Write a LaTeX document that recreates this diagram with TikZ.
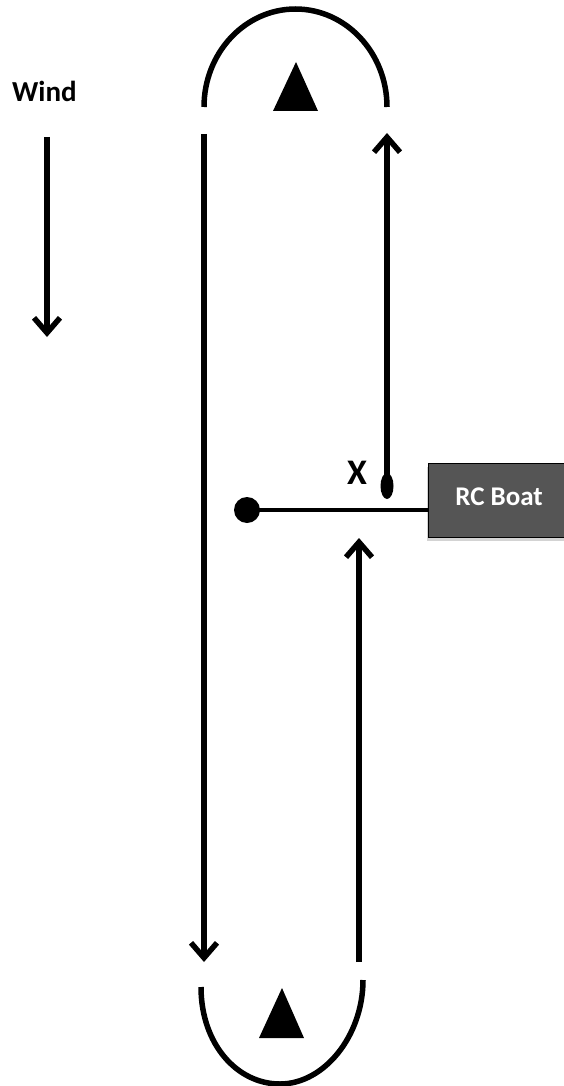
\documentclass[tikz,border=0pt]{standalone}
\usepackage{fontspec}
\setmainfont{Carlito}
\usetikzlibrary{arrows.meta,shadows,shapes.geometric}
\definecolor{boatgray}{RGB}{85,85,85}
\begin{document}
\begin{tikzpicture}[x=1pt,y=-1pt,
  course/.style={line width=5.5pt},
  runarrow/.style={line width=6pt,-{Straight Barb[length=15pt,width=26pt,line width=5.5pt]}},
  buoy/.style={fill=black},
]
\useasboundingbox (0,0) rectangle (563,1086);
% wind
\begin{scope}
\clip (0,60) rectangle (74,120);
\node[font=\bfseries\fontsize{29}{33}\selectfont,inner sep=0pt,anchor=west] (wind) at (12,91) {Wind};
\end{scope}
\coordinate (w1) at (47,137);
\coordinate (w2) at (47,337);
\draw[runarrow] (w1) -- (w2);
% top mark
\draw[course] (204,107) arc[start angle=180,end angle=360,x radius=91.5,y radius=98];
\fill[buoy] (296,62) -- (318,111) -- (273,111) -- cycle;
% bottom mark
\draw[course] (201,987) .. controls (201,1044) and (237,1084) .. (280,1084)
  .. controls (324,1084) and (363,1036) .. (363,980);
\fill[buoy] (282,988) -- (304,1038) -- (259,1038) -- cycle;
% legs
\coordinate (l1) at (204,134);
\coordinate (l2) at (204,962);
\draw[runarrow] (l1) -- (l2);
\coordinate (r1) at (359,962);
\coordinate (r2) at (359,538);
\draw[runarrow] (r1) -- (r2);
% start line
\node[draw=black,line width=1pt,fill=boatgray,minimum width=150pt,minimum height=74pt,anchor=north west,
  drop shadow={shadow xshift=-2pt,shadow yshift=-3pt,opacity=0.35}] (boat) at (428,463) {};
\node[font=\bfseries\fontsize{27}{30}\selectfont,text=white,inner sep=0pt] (boatlbl) at (499,497) {RC Boat};
\node[circle,fill=black,minimum size=26pt,inner sep=0pt] (pin) at (247,510) {};
\draw[line width=3.5pt] (pin.center) -- (boat.west |- pin.center);
% X mark
\node[ellipse,fill=black,minimum width=13pt,minimum height=26pt,inner sep=0pt] (xdot) at (387,486) {};
\coordinate (r3) at (387,133);
\draw[runarrow] (xdot.center) -- (r3);
\node[font=\bfseries\fontsize{36}{40}\selectfont,inner sep=0pt] (xl) at (357,473) {X};
\end{tikzpicture}
\end{document}
